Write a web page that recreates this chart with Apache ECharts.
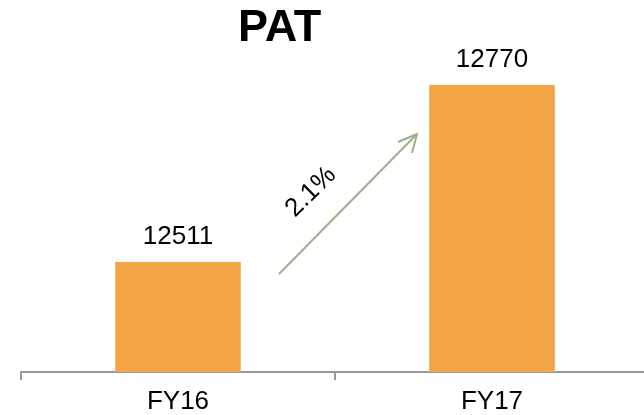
<!DOCTYPE html>
<html>
<head>
<meta charset="utf-8">
<script src="https://cdn.jsdelivr.net/npm/echarts@6/dist/echarts.min.js"></script>
<style>html,body{margin:0;padding:0;background:#fff}#c{width:644px;height:415px}</style>
</head>
<body>
<div id="c"></div>
<script>
const categories = ['FY16', 'FY17'];
const patValues = [12511, 12770];
const growthLabel = '2.1%';
const titleText = 'PAT';

const FONT = "'Liberation Sans', Arial, sans-serif";
const chart = echarts.init(document.getElementById('c'), null, {renderer: 'canvas'});
chart.setOption({
  animation: false,
  title: {
    text: titleText, left: 233, top: 1,
    textStyle: {fontFamily: FONT, fontSize: 45, fontWeight: 'bold', color: '#000'}
  },
  grid: {left: 21, width: 628, top: 64.5, bottom: 43, containLabel: false, outerBoundsMode: 'none'},
  xAxis: {
    type: 'category', data: categories, boundaryGap: true,
    axisLine: {show: true, lineStyle: {color: '#999999', width: 2}},
    axisTick: {show: true, length: 8, lineStyle: {color: '#999999', width: 2}},
    axisLabel: {fontFamily: FONT, fontSize: 26, color: '#000', margin: 17}
  },
  yAxis: {
    type: 'value', min: 12350, max: 12800, show: false, splitLine: {show: false}
  },
  series: [{
    type: 'bar', data: patValues, barWidth: '40%',
    itemStyle: {color: '#F3A546'},
    label: {show: true, position: 'top', distance: 12, fontFamily: FONT, fontSize: 26, color: '#000'}
  }],
  graphic: [
    {type: 'line', shape: {x1: 279, y1: 274, x2: 417, y2: 134},
     style: {stroke: '#9BB08B', lineWidth: 2}},
    {type: 'polyline', shape: {points: [[398, 142], [417, 134], [412, 153]]},
     style: {stroke: '#9BB08B', lineWidth: 2, fill: null}},
    {type: 'text', x: 311, y: 192, rotation: Math.PI / 4,
     style: {text: growthLabel, fontFamily: FONT, fontSize: 26, fill: '#000', align: 'center', verticalAlign: 'middle'}}
  ]
});
</script>
</body>
</html>
